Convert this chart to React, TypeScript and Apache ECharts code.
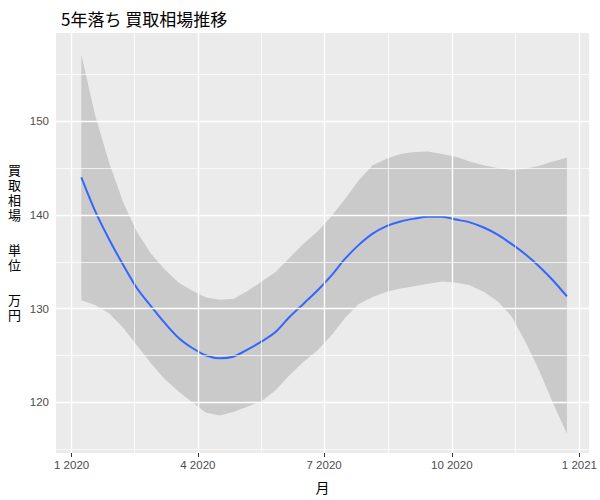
import React, { useEffect, useRef } from "react";
import * as echarts from "echarts";

// Sample dates along the smoothed curve (2020)
const dates = [
  "2020-01-08", "2020-01-18", "2020-01-28", "2020-02-07", "2020-02-17", "2020-02-27",
  "2020-03-08", "2020-03-18", "2020-03-28", "2020-04-07", "2020-04-17", "2020-04-27",
  "2020-05-07", "2020-05-17", "2020-05-27", "2020-06-06", "2020-06-16", "2020-06-26",
  "2020-07-06", "2020-07-16", "2020-07-26", "2020-08-05", "2020-08-15", "2020-08-25",
  "2020-09-04", "2020-09-14", "2020-09-24", "2020-10-04", "2020-10-14", "2020-10-24",
  "2020-11-03", "2020-11-13", "2020-11-23", "2020-12-03", "2020-12-13", "2020-12-23",
];

// Smoothed fit (万円)
const fitValues = [
  144.0, 140.4, 137.4, 134.7, 132.2, 130.3, 128.5, 126.9, 125.8, 125.0, 124.7, 124.9,
  125.65, 126.5, 127.5, 129.1, 130.5, 131.9, 133.5, 135.3, 136.8, 138.0, 138.8, 139.3,
  139.6, 139.8, 139.8, 139.5, 139.2, 138.65, 137.9, 136.9, 135.8, 134.5, 133.0, 131.3,
];

// Confidence band upper limit
const upperValues = [
  157.1, 150.6, 145.6, 141.4, 138.2, 135.9, 134.2, 132.8, 131.9, 131.2, 130.95, 131.05,
  131.9, 132.9, 133.9, 135.4, 136.9, 138.2, 139.8, 141.7, 143.7, 145.3, 146.0, 146.5,
  146.7, 146.75, 146.5, 146.2, 145.7, 145.3, 145.0, 144.8, 144.9, 145.25, 145.7, 146.1,
];

// Confidence band lower limit
const lowerValues = [
  130.9, 130.4, 129.5, 128.0, 126.1, 124.2, 122.5, 121.2, 120.0, 118.9, 118.6, 119.0,
  119.55, 120.15, 121.3, 122.9, 124.3, 125.5, 127.1, 129.0, 130.5, 131.25, 131.8, 132.15,
  132.4, 132.65, 132.9, 132.8, 132.5, 131.8, 130.8, 129.2, 126.5, 123.4, 119.9, 116.65,
];

const xTickDates = ["2020-01-01", "2020-04-01", "2020-07-01", "2020-10-01", "2021-01-01"];
const xTickLabels = ["1 2020", "4 2020", "7 2020", "10 2020", "1 2021"];
const yTicks = [120, 130, 140, 150];
const yMinorTicks = [115, 125, 135, 145, 155];

const ORIGIN = Date.parse("2020-01-01");
const toDay = (s: string) => (Date.parse(s) - ORIGIN) / 86400000;

const FONT = "'Liberation Sans', Arial, 'Noto Sans CJK JP', sans-serif";
const CJK = "'Noto Sans CJK JP', 'Liberation Sans', sans-serif";
const YNAME_FONT = "'Liberation Sans', 'Noto Sans CJK JP', sans-serif";

export default function App() {
  const ref = useRef<HTMLDivElement>(null);

  useEffect(() => {
    if (!ref.current) return;
    const chart = echarts.init(ref.current, null, { renderer: "svg" });

    const xs = dates.map(toDay);
    const tickDays = xTickDates.map(toDay);
    const minorDays: number[] = [];
    for (let i = 0; i < tickDays.length - 1; i++) {
      minorDays.push((tickDays[i] + tickDays[i + 1]) / 2);
    }

    const gridLines = [
      ...minorDays.map((v) => ({ xAxis: v, lineStyle: { width: 0.7 } })),
      ...yMinorTicks.map((v) => ({ yAxis: v, lineStyle: { width: 0.7 } })),
      ...tickDays.map((v) => ({ xAxis: v, lineStyle: { width: 1.4 } })),
      ...yTicks.map((v) => ({ yAxis: v, lineStyle: { width: 1.4 } })),
    ];

    const bandData = xs.map((x, i) => [x, upperValues[i], lowerValues[i]]);

    chart.setOption({
      animation: false,
      backgroundColor: "#FFFFFF",
      title: {
        text: "5年落ち 買取相場推移",
        left: 56,
        top: 5,
        textStyle: { fontFamily: CJK, fontSize: 17, fontWeight: "normal", color: "#000000" },
      },
      grid: {
        left: 56,
        right: 8,
        top: 33,
        bottom: 47,
        show: true,
        backgroundColor: "#EBEBEB",
        borderWidth: 0,
      },
      xAxis: {
        type: "value",
        min: -11.25,
        max: 373,
        name: "月",
        nameLocation: "middle",
        nameGap: 27,
        nameTextStyle: { fontFamily: CJK, fontSize: 14, color: "#000000" },
        axisLine: { show: false },
        splitLine: { show: false },
        axisTick: {
          show: true,
          length: 4,
          customValues: tickDays,
          lineStyle: { color: "#333333", width: 1 },
        },
        axisLabel: {
          customValues: tickDays,
          margin: 6,
          fontFamily: FONT,
          fontSize: 11.5,
          color: "#4D4D4D",
          formatter: (v: number) => {
            const idx = tickDays.findIndex((t) => Math.abs(t - v) < 0.01);
            return idx >= 0 ? xTickLabels[idx] : "";
          },
        },
      },
      yAxis: {
        type: "value",
        min: 114.6,
        max: 159.4,
        name: "{a|買}\n{a|取}\n{a|相}\n{a|場}\n{g| }\n{a|単}\n{a|位}\n{g| }\n{a|万}\n{a|円}",
        nameLocation: "middle",
        nameRotate: 0,
        nameGap: 35,
        nameTextStyle: {
          fontFamily: YNAME_FONT,
          fontSize: 13,
          color: "#000000",
          rich: {
            a: { fontFamily: YNAME_FONT, fontSize: 13, color: "#000000", lineHeight: 15 },
            g: { fontFamily: YNAME_FONT, fontSize: 6, lineHeight: 20 },
          },
        },
        axisLine: { show: false },
        splitLine: { show: false },
        axisTick: {
          show: true,
          length: 4,
          customValues: yTicks,
          lineStyle: { color: "#333333", width: 1 },
        },
        axisLabel: {
          customValues: yTicks,
          margin: 7,
          fontFamily: FONT,
          fontSize: 11.5,
          color: "#4D4D4D",
        },
      },
      series: [
        {
          type: "line",
          data: [],
          z: 1,
          silent: true,
          markLine: {
            silent: true,
            symbol: ["none", "none"],
            label: { show: false },
            emphasis: { disabled: true },
            lineStyle: { color: "#FFFFFF", type: "solid", width: 1 },
            data: gridLines,
          },
        },
        {
          type: "custom",
          name: "band",
          data: bandData,
          z: 3,
          silent: true,
          encode: { x: 0, y: [1, 2] },
          renderItem: (params: any, api: any) => {
            if (params.dataIndex !== 0) return null;
            const top = bandData.map((d) => api.coord([d[0], d[1]]));
            const bottom = bandData.map((d) => api.coord([d[0], d[2]])).reverse();
            return {
              type: "polygon",
              shape: { points: top.concat(bottom), smooth: 0 },
              style: { fill: "#999999", opacity: 0.4 },
            };
          },
        },
        {
          type: "line",
          name: "fit",
          data: xs.map((x, i) => [x, fitValues[i]]),
          symbol: "none",
          smooth: 0.3,
          silent: true,
          z: 4,
          lineStyle: { color: "#3366FF", width: 2 },
        },
      ],
    });

    return () => chart.dispose();
  }, []);

  return (
    <div
      ref={ref}
      style={{ position: "fixed", left: 0, top: 0, width: 600, height: 500 }}
    />
  );
}
